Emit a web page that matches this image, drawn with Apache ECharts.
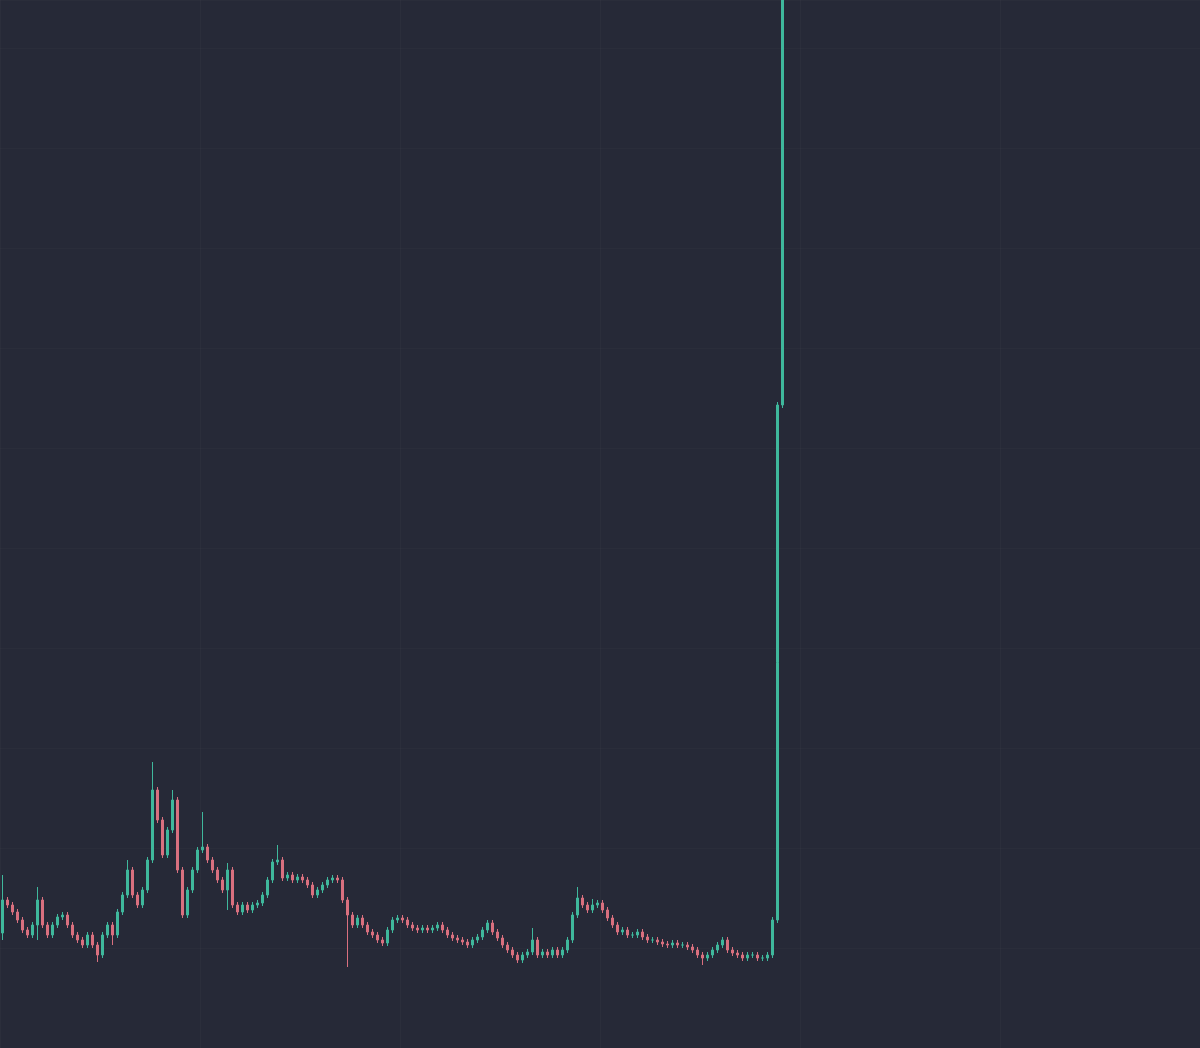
<!DOCTYPE html>
<html>
<head>
<meta charset="utf-8">
<script src="https://cdn.jsdelivr.net/npm/echarts@6/dist/echarts.min.js"></script>
<style>
html,body{margin:0;padding:0;background:#262937;}
#chart{width:1200px;height:1048px;}
</style>
</head>
<body>
<div id="chart"></div>
<script>
// Total number of candle slots on the time axis (only the first part is filled)
const slotCount = 240;
const categories = Array.from({length: slotCount}, (_, i) => String(i + 1));

const opens = [11.5,14.8,14.3,13.6,12.8,11.8,11.3,12.3,14.8,12.3,
 11.3,12.3,13.1,13.3,12.3,11.3,10.8,10.3,11.3,10.3,
 9.3,11.3,12.3,11.3,13.6,15.3,17.8,15.3,14.3,15.8,
 18.8,25.8,22.8,19.3,21.8,24.8,17.8,13.3,15.8,17.8,
 19.8,20.1,18.8,17.8,16.8,15.8,17.8,14.3,13.6,14.3,
 13.8,14.3,14.5,15.3,16.8,18.6,18.8,17.0,17.3,16.8,
 17.1,16.8,16.3,15.3,15.8,16.3,16.8,17.0,16.8,14.8,
 13.3,12.3,13.0,12.3,11.6,11.3,10.8,10.5,11.8,12.8,
 13.0,12.8,12.3,12.0,11.8,12.0,11.8,12.0,12.3,11.8,
 11.3,11.0,10.8,10.6,10.3,10.8,11.1,11.8,12.5,11.6,
 11.0,10.3,9.8,9.3,8.8,9.3,9.6,10.8,9.3,9.6,
 9.3,9.8,9.3,9.8,10.8,13.3,15.0,14.3,13.8,14.3,
 14.5,13.8,13.0,12.3,11.6,11.8,11.3,11.3,11.6,11.1,
 10.8,10.8,10.6,10.4,10.3,10.5,10.3,10.3,10.1,9.8,
 9.3,9.0,9.3,9.8,10.3,10.8,9.8,9.5,9.3,9.0,
 9.3,9.3,9.0,9.0,9.3,12.8,64.3];

const closes = [14.8,14.3,13.6,12.8,11.8,11.3,12.3,14.8,12.3,11.3,
 12.3,13.1,13.3,12.3,11.3,10.8,10.3,11.3,10.3,9.3,
 11.3,12.3,11.3,13.6,15.3,17.8,15.3,14.3,15.8,18.8,
 25.8,22.8,19.3,21.8,24.8,17.8,13.3,15.8,17.8,19.8,
 20.1,18.8,17.8,16.8,15.8,17.8,14.3,13.6,14.3,13.8,
 14.3,14.5,15.3,16.8,18.6,18.8,17.0,17.3,16.8,17.1,
 16.8,16.3,15.3,15.8,16.3,16.8,17.0,16.8,14.8,13.3,
 12.3,13.0,12.3,11.6,11.3,10.8,10.5,11.8,12.8,13.0,
 12.8,12.3,12.0,11.8,12.0,11.8,12.0,12.3,11.8,11.3,
 11.0,10.8,10.6,10.3,10.8,11.1,11.8,12.5,11.6,11.0,
 10.3,9.8,9.3,8.8,9.3,9.6,10.8,9.3,9.6,9.3,
 9.8,9.3,9.8,10.8,13.3,15.0,14.3,13.8,14.3,14.5,
 13.8,13.0,12.3,11.6,11.8,11.3,11.3,11.6,11.1,10.8,
 10.8,10.6,10.4,10.3,10.5,10.3,10.3,10.1,9.8,9.3,
 9.0,9.3,9.8,10.3,10.8,9.8,9.5,9.3,9.0,9.3,
 9.3,9.0,9.0,9.3,12.8,64.3,130];

const lows = [10.8,14.0,13.3,12.5,11.5,11.0,11.0,10.8,12.0,11.0,
 11.0,12.0,12.8,12.0,11.0,10.5,10.0,10.0,10.0,8.6,
 9.0,11.0,10.3,11.0,13.3,15.0,15.0,14.0,14.0,15.5,
 18.5,22.5,19.0,19.0,21.5,17.5,13.0,13.0,15.5,17.5,
 19.5,18.5,17.5,16.5,15.5,13.8,14.0,13.3,13.3,13.5,
 13.5,14.0,14.2,15.0,16.5,18.3,16.7,16.7,16.5,16.5,
 16.5,16.0,15.0,15.0,15.5,16.0,16.5,16.5,14.5,8.1,
 12.0,12.0,12.0,11.3,11.0,10.5,10.2,10.2,11.5,12.5,
 12.5,12.0,11.7,11.5,11.5,11.5,11.5,11.7,11.5,11.0,
 10.7,10.5,10.3,10.0,10.0,10.5,10.8,11.5,11.3,10.7,
 10.0,9.5,9.0,8.5,8.5,9.0,9.3,9.0,9.0,9.0,
 9.0,9.0,9.0,9.5,10.5,13.0,14.0,13.5,13.5,14.0,
 13.5,12.7,12.0,11.3,11.3,11.0,11.0,11.0,10.8,10.5,
 10.5,10.3,10.1,10.0,10.0,10.0,10.0,9.8,9.5,9.0,
 8.3,8.7,9.0,9.5,10.0,9.5,9.2,9.0,8.7,8.7,
 9.0,8.7,8.7,8.7,9.0,12.5,64.0];

const highs = [17.3,15.1,14.6,13.9,13.1,12.1,12.6,16.1,15.1,12.6,
 12.6,13.4,13.6,13.6,12.6,11.6,11.1,11.6,11.6,10.6,
 11.6,12.6,12.6,13.9,15.6,18.8,18.1,15.6,16.1,19.1,
 28.6,26.1,23.1,22.1,25.8,25.1,18.1,16.1,18.1,20.1,
 23.6,20.4,19.1,18.1,17.1,18.5,18.1,14.6,14.6,14.6,
 14.6,14.8,15.6,17.1,18.9,20.3,19.1,17.6,17.6,17.4,
 17.4,17.1,16.6,16.1,16.6,17.1,17.3,17.3,17.1,15.1,
 13.6,13.3,13.3,12.6,11.9,11.6,11.1,12.1,13.1,13.3,
 13.3,13.1,12.6,12.3,12.3,12.3,12.3,12.6,12.6,12.1,
 11.6,11.3,11.1,10.9,11.1,11.4,12.1,12.8,12.8,11.9,
 11.3,10.6,10.1,9.6,9.6,9.9,12.0,11.1,9.9,9.9,
 10.1,10.1,10.1,11.1,13.6,16.1,15.3,14.6,14.9,14.8,
 14.8,14.1,13.3,12.6,12.1,12.1,11.6,11.9,11.9,11.4,
 11.1,11.1,10.9,10.7,10.8,10.8,10.6,10.6,10.4,10.1,
 9.6,9.6,10.1,10.6,11.1,11.1,10.1,9.8,9.6,9.6,
 9.6,9.6,9.3,9.6,13.1,64.6,140];

// ECharts candlestick order: [open, close, lowest, highest]
const candleData = opens.map((o, i) => [o, closes[i], lows[i], highs[i]]);

const chart = echarts.init(document.getElementById('chart'));
chart.setOption({
  backgroundColor: '#262937',
  animation: false,
  grid: {left: 0, right: 0, top: 0, bottom: 0},
  xAxis: {
    type: 'category',
    data: categories,
    boundaryGap: true,
    axisLine: {show: false},
    axisTick: {show: false},
    axisLabel: {show: false},
    splitLine: {show: true, interval: 39, lineStyle: {color: 'rgba(255,255,255,0.025)'}}
  },
  yAxis: {
    type: 'value',
    min: 0,
    max: 104.8,
    interval: 10,
    axisLine: {show: false},
    axisTick: {show: false},
    axisLabel: {show: false},
    splitLine: {show: true, lineStyle: {color: 'rgba(255,255,255,0.02)'}}
  },
  series: [{
    type: 'candlestick',
    data: candleData,
    barWidth: 3,
    clip: true,
    itemStyle: {
      color: '#3fb89c',
      color0: '#d9707f',
      borderColor: '#3fb89c',
      borderColor0: '#d9707f',
      borderWidth: 1
    }
  }]
});
</script>
</body>
</html>
